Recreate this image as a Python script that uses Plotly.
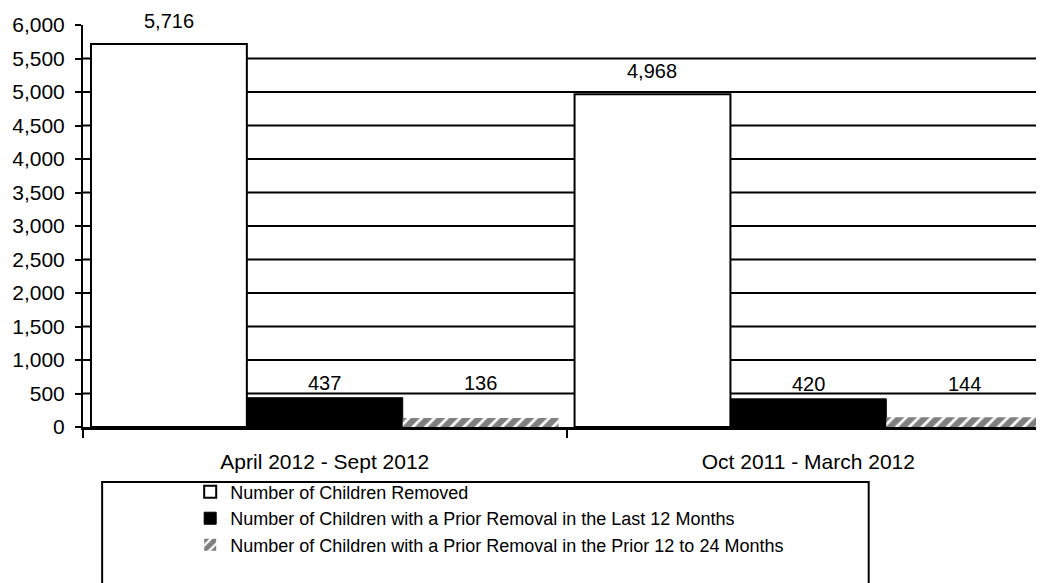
import plotly.graph_objects as go

categories = ["April 2012 - Sept 2012", "Oct 2011 - March 2012"]
removed = [5716, 4968]
prior_12 = [437, 420]
prior_12_24 = [136, 144]
series_names = [
    "Number of Children Removed",
    "Number of Children with a Prior Removal in the Last 12 Months",
    "Number of Children with a Prior Removal in the Prior 12 to 24 Months",
]
y_ticks = list(range(0, 6001, 500))

FONT = "Liberation Sans, Arial, sans-serif"
BARGAP = 0.033
BAR_W = (1 - BARGAP) / 3

fig = go.Figure()
fig.add_trace(go.Bar(
    x=categories, y=removed, name=series_names[0],
    marker=dict(color="white", line=dict(color="black", width=2)),
))
fig.add_trace(go.Bar(
    x=categories, y=prior_12, name=series_names[1],
    marker=dict(color="black", line=dict(color="black", width=1)),
))
fig.add_trace(go.Bar(
    x=categories, y=prior_12_24, name=series_names[2],
    marker=dict(color="white", line=dict(color="white", width=0),
                pattern=dict(shape="/", fgcolor="black", bgcolor="white", size=9, solidity=0.7)),
))

lab_font = dict(size=20, color="black", family=FONT)
for i in range(len(categories)):
    fig.add_annotation(x=i - BAR_W, y=removed[i], text=f"{removed[i]:,}", showarrow=False,
                       yshift=23, font=lab_font)
    top = max(prior_12[i], prior_12_24[i])
    fig.add_annotation(x=i, y=top, text=f"{prior_12[i]:,}", showarrow=False,
                       yshift=15, font=lab_font)
    fig.add_annotation(x=i + BAR_W, y=top, text=f"{prior_12_24[i]:,}", showarrow=False,
                       yshift=15, font=lab_font)

# horizontal gridlines (none on the top edge)
for v in y_ticks[1:-1]:
    fig.add_shape(type="line", xref="paper", yref="y", x0=0, x1=1, y0=v, y1=v,
                  line=dict(color="black", width=2), layer="below")

# legend frame
fig.add_shape(type="rect", xref="paper", yref="paper", x0=0.02, x1=0.821, y0=-0.45, y1=-0.137,
              line=dict(color="black", width=2), fillcolor="rgba(0,0,0,0)")

fig.update_layout(
    width=1036, height=575,
    margin=dict(l=70, r=4, t=17, b=156),
    paper_bgcolor="white", plot_bgcolor="white",
    barmode="group", bargap=BARGAP, bargroupgap=0,
    font=dict(family=FONT, color="black", size=18),
    showlegend=True,
    legend=dict(x=0.112, y=-0.116, xanchor="left", yanchor="top",
                font=dict(size=18, family=FONT, color="black"),
                bgcolor="rgba(0,0,0,0)", tracegroupgap=0, itemwidth=30),
    xaxis=dict(range=[-0.5, 1.479], showline=True, linecolor="black", linewidth=2.5,
               ticks="outside", tickson="boundaries", ticklen=8, tickcolor="black", tickwidth=2,
               ticklabelstandoff=14,
               tickfont=dict(size=21, family=FONT, color="black"), showgrid=False),
    yaxis=dict(range=[0, 6000], tickvals=y_ticks, ticktext=[f"{v:,}" for v in y_ticks],
               showline=True, linecolor="black", linewidth=2, ticks="outside",
               ticklen=6, tickcolor="black", tickwidth=2, showgrid=False, zeroline=False,
               ticklabelstandoff=6,
               tickfont=dict(size=21, family=FONT, color="black")),
)

fig.write_html("out.html")
